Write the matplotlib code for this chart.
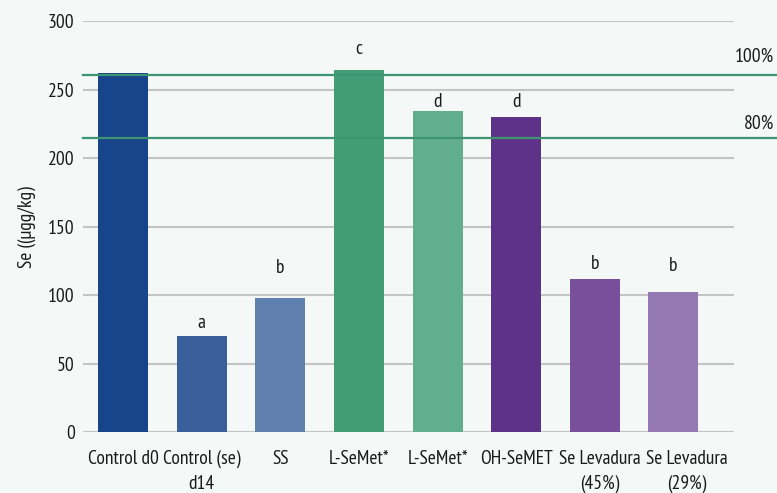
import matplotlib.pyplot as plt
from matplotlib.transforms import ScaledTranslation

categories = ['Control d0', 'Control (se)\nd14', 'SS', 'L-SeMet*', 'L-SeMet*',
              'OH-SeMET', 'Se Levadura\n(45%)', 'Se Levadura\n(29%)']
values = [262, 70, 98, 264.5, 234.5, 230, 112, 102.5]
letters = ['', 'a', 'b', 'c', 'd', 'd', 'b', 'b']
letter_y = [0, 80, 120, 280, 241, 241, 123, 121]
colors = ['#17448a', '#3a5f9b', '#6080b0', '#429d74', '#62ae8c',
          '#5e3289', '#774f9b', '#9678b3']
ref_levels = [261, 214.5]
ref_labels = ['100%', '80%']
yticks = [0, 50, 100, 150, 200, 250, 300]

plt.rcParams['font.family'] = ['PT Sans Narrow', 'Roboto Condensed', 'DejaVu Sans']

bg = '#f4f8f7'
fs = 14
fig = plt.figure(figsize=(7.77, 4.93), dpi=100, facecolor=bg)
ax = fig.add_axes([83 / 777, 1 - 432 / 493, 651 / 777, 410.5 / 493])
ax.set_facecolor(bg)

x = range(len(categories))
ax.bar(x, values, width=0.636, color=colors, zorder=3)
for xi, lt, ly in zip(x, letters, letter_y):
    if lt:
        ax.text(xi, ly, lt, ha='center', va='center', fontsize=fs, color='#1a1a1a', zorder=4)

ax.set_ylim(0, 300)
ax.set_xlim(-0.51, 7.77)
ax.set_yticks(yticks)
ax.yaxis.grid(True, color='#c4c4c4', linewidth=1.5, zorder=0)
ax.set_axisbelow(True)
for s in ax.spines.values():
    s.set_visible(False)
ax.tick_params(axis='both', length=0, labelsize=fs, colors='#1a1a1a')
ax.tick_params(axis='x', pad=13)
ax.tick_params(axis='y', pad=6)
ax.set_xticks(list(x))
ax.set_xticklabels(categories, linespacing=1.45)
# the last two labels sit a little right of their bars
for lbl, dx in zip(ax.get_xticklabels()[-2:], [5, 13]):
    lbl.set_transform(lbl.get_transform() + ScaledTranslation(dx / 100, 0, fig.dpi_scale_trans))
ax.set_ylabel('Se ((µgg/kg)', fontsize=fs, color='#1a1a1a', labelpad=9)

for lvl, lab, off in zip(ref_levels, ref_labels, [13, 10.5]):
    ax.plot([0, 1.066], [lvl, lvl], transform=ax.get_yaxis_transform(),
            color='#3d9470', linewidth=1.6, clip_on=False, zorder=5)
    ax.text(1.0615, lvl + off, lab, transform=ax.get_yaxis_transform(),
            ha='right', va='center', fontsize=fs, color='#1a1a1a')

fig.savefig('out.png', dpi=100, facecolor=bg)
